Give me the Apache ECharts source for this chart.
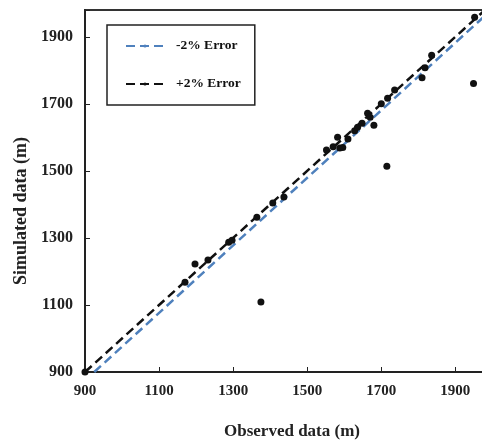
<!DOCTYPE html>
<html>
<head>
<meta charset="utf-8">
<script src="https://cdn.jsdelivr.net/npm/echarts@6/dist/echarts.min.js"></script>
<style>
  html, body { margin: 0; padding: 0; background: #fff; }
  #chart { width: 482px; height: 445px; }
</style>
</head>
<body>
<div id="chart"></div>
<script>
// observed / simulated pairs
var observed = [900, 1170, 1197, 1232, 1288, 1297, 1364, 1407, 1437,
  1552, 1570, 1582, 1588, 1596, 1610, 1628, 1636, 1648, 1663, 1670, 1680,
  1700, 1717, 1736, 1810, 1818, 1836, 1952, 1375, 1715, 1949];
var simulated = [900, 1168, 1222, 1234, 1287, 1293, 1362, 1404, 1422,
  1562, 1572, 1600, 1568, 1570, 1595, 1620, 1630, 1642, 1672, 1660, 1636,
  1700, 1717, 1741, 1778, 1808, 1845, 1958, 1109, 1514, 1761];
// error band ends
var minusLine = [[925, 900], [1980, 1963]];
var plusLine = [[900, 900], [1980, 1980]];
var axisTicks = [900, 1100, 1300, 1500, 1700, 1900];

var points = observed.map(function (x, i) { return [x, simulated[i]]; });

var chart = echarts.init(document.getElementById('chart'));
var font = 'Liberation Serif';

var option = {
  backgroundColor: '#fff',
  animation: false,
  grid: {
    show: true,
    left: 85,
    width: 400,
    top: 10,
    height: 362,
    outerBoundsMode: 'none',
    borderColor: '#333',
    borderWidth: 2
  },
  legend: {
    data: ['-2% Error', '+2% Error'],
    orient: 'vertical',
    left: 107,
    top: 25,
    padding: [14, 14, 14, 18],
    itemGap: 24,
    itemWidth: 38,
    itemHeight: 4,
    borderColor: '#222',
    borderWidth: 1.5,
    textStyle: { fontFamily: font, fontWeight: 'bold', fontSize: 13.5, color: '#111', padding: [0, 0, 0, 7] }
  },
  xAxis: {
    type: 'value',
    min: 900,
    max: 1980,
    interval: 200,
    name: 'Observed data (m)',
    nameLocation: 'middle',
    nameGap: 51,
    nameTextStyle: { fontFamily: font, fontWeight: 'bold', fontSize: 17, color: '#222', padding: [0, 0, 0, 14] },
    axisLine: { lineStyle: { color: '#222', width: 2 } },
    axisTick: { inside: true, length: 5, lineStyle: { color: '#222' } },
    axisLabel: {
      fontFamily: font, fontWeight: 'bold', fontSize: 15, color: '#222', margin: 12,
      formatter: function (v) { return axisTicks.indexOf(v) >= 0 ? v : ''; }
    },
    splitLine: { show: false }
  },
  yAxis: {
    type: 'value',
    min: 900,
    max: 1980,
    interval: 200,
    name: 'Simulated data (m)',
    nameLocation: 'middle',
    nameGap: 44,
    nameTextStyle: { fontFamily: font, fontWeight: 'bold', fontSize: 18, color: '#222', padding: [0, 40, 0, 0] },
    axisLine: { show: true, lineStyle: { color: '#222', width: 2 } },
    axisTick: { show: true, inside: true, length: 5, lineStyle: { color: '#222' } },
    axisLabel: {
      fontFamily: font, fontWeight: 'bold', fontSize: 16, color: '#222', margin: 12,
      formatter: function (v) { return axisTicks.indexOf(v) >= 0 ? v : ''; }
    },
    splitLine: { show: false }
  },
  series: [
    {
      name: '-2% Error',
      type: 'line',
      data: minusLine,
      symbol: 'none',
      color: '#4f81bd',
      lineStyle: { color: '#4f81bd', width: 2.5, type: [9, 5] },
      z: 2
    },
    {
      name: '+2% Error',
      type: 'line',
      data: plusLine,
      symbol: 'none',
      color: '#111',
      lineStyle: { color: '#111', width: 2.5, type: [9, 5] },
      z: 3
    },
    {
      name: 'data',
      type: 'scatter',
      data: points,
      symbolSize: 7,
      itemStyle: { color: '#111', opacity: 1 },
      z: 4
    }
  ]
};

chart.setOption(option);
</script>
</body>
</html>
